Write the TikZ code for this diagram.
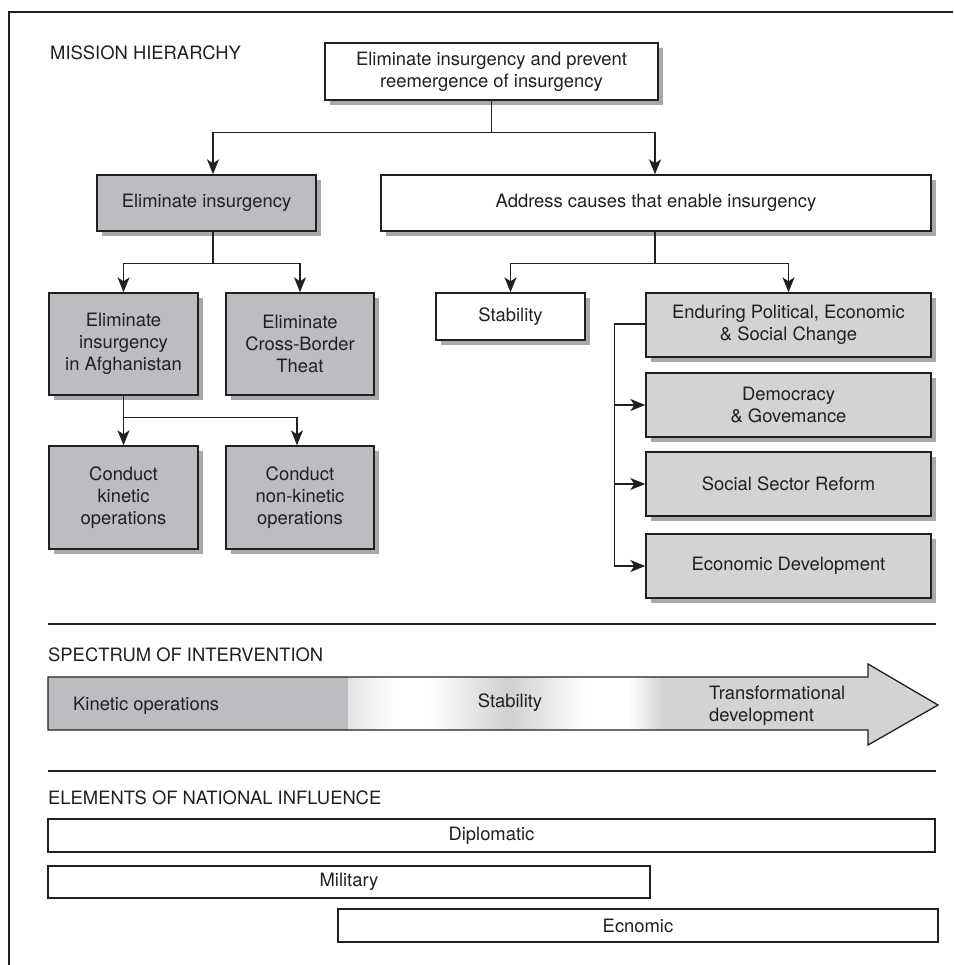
\documentclass[tikz,border=0pt]{standalone}
\usepackage{fontspec}
\setmainfont{TeX Gyre Heros}
\usetikzlibrary{arrows.meta,shadows}
\definecolor{ink}{HTML}{231F20}
\definecolor{gA}{HTML}{BCBDC0}
\definecolor{gB}{HTML}{D1D3D4}
\definecolor{shd}{HTML}{A7A9AC}
\definecolor{blob}{HTML}{CFD0D2}
\definecolor{fadeg}{HTML}{E2E3E4}
\newcommand\dfont{\fontsize{18.4pt}{22pt}\selectfont}
\begin{document}
\begin{tikzpicture}[x=1pt,y=-1pt,
  every node/.style={font=\dfont, text=ink},
  box/.style={draw=ink, line width=1.4pt, rectangle, inner sep=0pt, align=center,
    drop shadow={shadow xshift=5pt, shadow yshift=-5pt, fill=shd, opacity=1}},
  plainbox/.style={draw=ink, line width=1.3pt, rectangle, inner sep=0pt, fill=white},
  conn/.style={draw=ink, line width=1.3pt},
  arr/.style={conn, -{Stealth[length=15pt,width=12pt,inset=4pt]}},
  sep/.style={draw=ink, line width=2.7pt},
  lbl/.style={anchor=base west, inner sep=0pt}
]
\useasboundingbox (0,0) rectangle (953,965);
% frame
\draw[ink, line width=2.5pt] (953,12) -- (9,12) -- (9,965);

% ---------- Mission hierarchy ----------
\node[lbl] (lmh) at (50,60) {MISSION HIERARCHY};

\node[box, fill=white, minimum width=333pt, minimum height=57pt] (top) at (491.5,71.5)
  {Eliminate insurgency and prevent\\reemergence of insurgency};

\node[box, fill=gA, minimum width=219pt, minimum height=56pt] (elim) at (206.5,203) {Eliminate insurgency};
\node[box, fill=white, minimum width=550pt, minimum height=56pt] (addr) at (656,203) {Address causes that enable insurgency};

\node[box, fill=gA, minimum width=149pt, minimum height=102pt] (afg) at (123.5,344) {Eliminate\\insurgency\\in Afghanistan};
\node[box, fill=gA, minimum width=148pt, minimum height=102pt] (cross) at (300,344) {Eliminate\\Cross-Border\\Theat};

\node[box, fill=gA, minimum width=149pt, minimum height=103pt] (kin) at (123.5,497.5) {Conduct\\kinetic\\operations};
\node[box, fill=gA, minimum width=148pt, minimum height=103pt] (nonkin) at (300,497.5) {Conduct\\non-kinetic\\operations};

\node[box, fill=white, minimum width=149pt, minimum height=47pt] (stab) at (510.5,316.5) {Stability};
\node[box, fill=gB, minimum width=285pt, minimum height=64pt] (endur) at (788.5,325) {Enduring Political, Economic\\\& Social Change};
\node[box, fill=gB, minimum width=285pt, minimum height=64pt] (demo) at (788.5,405) {Democracy\\\& Govemance};
\node[box, fill=gB, minimum width=285pt, minimum height=64pt] (social) at (788.5,484) {Social Sector Reform};
\node[box, fill=gB, minimum width=285pt, minimum height=64pt] (econ) at (788.5,566) {Economic Development};

% connectors
\draw[conn] (top.south) -- ++(0,32) coordinate (j1);
\draw[arr] (j1) -| ([xshift=6.5pt]elim.north);
\draw[arr] (j1) -| ([xshift=-1pt]addr.north);

\draw[conn] ([xshift=6.5pt]elim.south) -- ++(0,32) coordinate (j2);
\draw[arr] (j2) -| (afg.north);
\draw[arr] (j2) -| (cross.north);

\draw[conn] (afg.south) -- ++(0,22) coordinate (j3);
\draw[arr] (j3) -| (kin.north);
\draw[arr] (j3) -| ([xshift=-3pt]nonkin.north);

\draw[conn] ([xshift=-1pt]addr.south) -- ++(0,32) coordinate (j4);
\draw[arr] (j4) -| (stab.north);
\draw[arr] (j4) -| (endur.north);

\draw[conn] ([yshift=1pt]endur.west) -- ++(-31,0) coordinate (j5);
\draw[arr] (j5) |- (econ.west);
\draw[arr] (j5 |- demo.west) -- (demo.west);
\draw[arr] (j5 |- social.west) -- (social.west);

% ---------- Spectrum of intervention ----------
\draw[sep] (48,624) -- (936,624);
\node[lbl] (lsp) at (48,661.7) {SPECTRUM OF INTERVENTION};

\begin{scope}
  \clip (48,677) -- (868,677) -- (868,664) -- (938,705) -- (868,745) -- (868,730) -- (48,730) -- cycle;
  \fill[gA] (40,655) rectangle (348,755);
  \shade[left color=fadeg, right color=white] (348,655) rectangle (395,755);
  \fill[white] (395,655) rectangle (430,755);
  \shade[left color=white, right color=blob] (430,655) rectangle (508,755);
  \shade[left color=blob, right color=white] (508,655) rectangle (586,755);
  \fill[white] (586,655) rectangle (628,755);
  \shade[left color=white, right color=gB] (628,655) rectangle (663,755);
  \fill[gB] (663,655) rectangle (945,755);
\end{scope}
\draw[ink, line width=1.3pt, line join=miter] (48,677) -- (868,677) -- (868,664) -- (938,705) -- (868,745) -- (868,730) -- (48,730) -- cycle;

\node[lbl] (tk) at (73,710) {Kinetic operations};
\node[anchor=base, inner sep=0pt] (ts) at (510,707) {Stability};
\node[lbl] (tt1) at (709,699) {Transformational};
\node[lbl] (tt2) at (709,721) {development};

% ---------- Elements of national influence ----------
\draw[sep] (48,771) -- (936,771);
\node[lbl] (lel) at (48,804) {ELEMENTS OF NATIONAL INFLUENCE};

\node[plainbox, minimum width=887pt, minimum height=33pt] (dip) at (491.5,835.5) {Diplomatic};
\node[plainbox, minimum width=602pt, minimum height=32pt] (mil) at (349,882) {Military};
\node[plainbox, minimum width=600pt, minimum height=33pt] (eco) at (638,925.5) {Ecnomic};
\end{tikzpicture}
\end{document}
